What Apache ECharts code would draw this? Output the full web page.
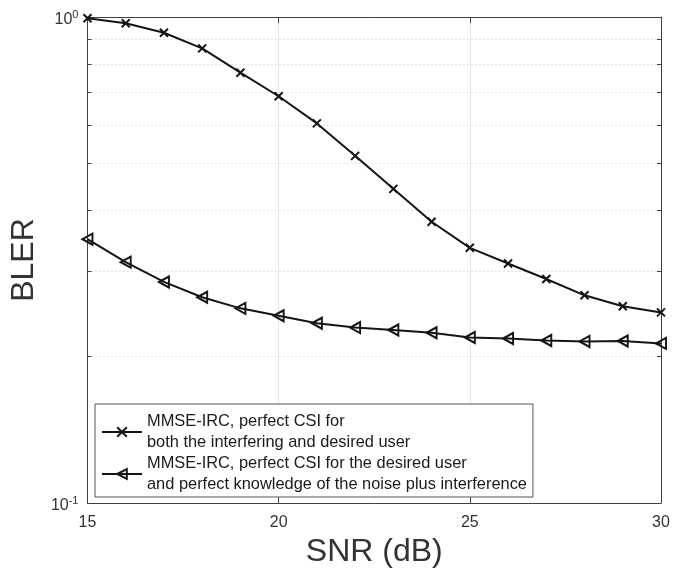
<!DOCTYPE html>
<html>
<head>
<meta charset="utf-8">
<script src="https://cdn.jsdelivr.net/npm/echarts@6/dist/echarts.min.js"></script>
<style>
html,body{margin:0;padding:0;background:#fff;}
#chart{width:685px;height:575px;}
</style>
</head>
<body>
<div id="chart"></div>
<script>
var snr = [15,16,17,18,19,20,21,22,23,24,25,26,27,28,29,30];
var blerFullCsi = [0.994,0.971,0.928,0.862,0.768,0.687,0.604,0.518,0.443,0.379,0.335,0.311,0.289,0.2675,0.254,0.2467];
var blerDesiredCsi = [0.349,0.313,0.285,0.265,0.2515,0.2428,0.2344,0.2296,0.227,0.224,0.219,0.218,0.216,0.215,0.2155,0.213];
var seriesNames = [
  'MMSE-IRC, perfect CSI for\nboth the interfering and desired user',
  'MMSE-IRC, perfect CSI for the desired user\nand perfect knowledge of the noise plus interference'
];
var xTicks = [15,20,25,30];
var yMin = 0.1, yMax = 1;

function pairs(xs, ys){ return xs.map(function(x,i){ return [x, ys[i]]; }); }

var FONT = '"Liberation Sans", Arial, Helvetica, sans-serif';
var AX = '#404040';
var LINE = '#151515';

var chart = echarts.init(document.getElementById('chart'), null, {renderer:'canvas'});
chart.setOption({
  animation: false,
  textStyle: {fontFamily: FONT},
  grid: {left: 86, top: 17, right: 24, bottom: 72, containLabel: false},
  legend: {
    left: 95, top: 404,
    orient: 'vertical',
    backgroundColor: '#fff',
    borderColor: '#555',
    borderWidth: 1,
    padding: [7, 6, 2, 6],
    itemGap: 0,
    itemWidth: 40,
    itemHeight: 12,
    textStyle: {fontFamily: FONT, fontSize: 16.4, lineHeight: 21, color: '#1a1a1a'},
    data: seriesNames
  },
  xAxis: [{
    type: 'value', min: xTicks[0], max: xTicks[xTicks.length-1], interval: 5,
    position: 'bottom',
    name: 'SNR (dB)', nameLocation: 'middle', nameGap: 32,
    nameTextStyle: {fontFamily: FONT, fontSize: 32, color: '#333'},
    axisLine: {show: true, lineStyle: {color: AX, width: 1}},
    axisTick: {show: true, inside: true, length: 6, lineStyle: {color: AX}},
    axisLabel: {margin: 12, fontSize: 16, color: '#333', fontFamily: FONT},
    splitLine: {show: true, lineStyle: {color: '#e6e6e6', width: 1, type: 'solid'}}
  },{
    type: 'value', min: xTicks[0], max: xTicks[xTicks.length-1], interval: 5,
    position: 'top',
    axisLine: {show: true, onZero: false, lineStyle: {color: AX, width: 1}},
    axisTick: {show: true, inside: true, length: 6, lineStyle: {color: AX}},
    axisLabel: {show: false},
    splitLine: {show: false}
  }],
  yAxis: [{
    type: 'log', logBase: 10, min: yMin, max: yMax,
    position: 'left',
    name: 'BLER', nameLocation: 'middle', nameGap: 41,
    nameTextStyle: {fontFamily: FONT, fontSize: 32, color: '#333'},
    axisLine: {show: true, onZero: false, lineStyle: {color: AX, width: 1}},
    axisTick: {show: true, inside: true, length: 6, lineStyle: {color: AX}},
    minorTick: {show: true, splitNumber: 9, length: 4, lineStyle: {color: AX}},
    minorSplitLine: {show: true, lineStyle: {color: '#c8c8c8', width: 1, type: [1, 3]}},
    splitLine: {show: false},
    axisLabel: {
      margin: 9,
      padding: [6, 0, 0, 0],
      formatter: function(v){
        var e = Math.round(Math.log10(v));
        return '{b|10}{s|' + e + '}';
      },
      rich: {
        b: {fontSize: 16, lineHeight: 16, color: '#333', fontFamily: FONT, verticalAlign: 'bottom'},
        s: {fontSize: 11, lineHeight: 11, color: '#333', fontFamily: FONT, verticalAlign: 'bottom', padding: [0, 0, 8, 0]}
      }
    }
  },{
    type: 'log', logBase: 10, min: yMin, max: yMax,
    position: 'right',
    axisLine: {show: true, onZero: false, lineStyle: {color: AX, width: 1}},
    axisTick: {show: true, inside: true, length: 6, lineStyle: {color: AX}},
    minorTick: {show: true, splitNumber: 9, length: 4, lineStyle: {color: AX}},
    minorSplitLine: {show: false},
    splitLine: {show: false},
    axisLabel: {show: false}
  }],
  series: [{
    name: seriesNames[0],
    type: 'line',
    xAxisIndex: 0, yAxisIndex: 0,
    data: pairs(snr, blerFullCsi),
    symbol: 'path://M0,0L10,10M10,0L0,10',
    symbolSize: 8,
    showAllSymbol: true,
    lineStyle: {color: LINE, width: 2},
    itemStyle: {color: 'none', borderColor: LINE, borderWidth: 2},
    z: 3
  },{
    name: seriesNames[1],
    type: 'line',
    xAxisIndex: 0, yAxisIndex: 0,
    data: pairs(snr, blerDesiredCsi),
    symbol: 'path://M0,5L9,0L9,10Z',
    symbolSize: [10, 11],
    showAllSymbol: true,
    lineStyle: {color: LINE, width: 2},
    itemStyle: {color: 'none', borderColor: LINE, borderWidth: 2},
    z: 3
  }]
});
</script>
</body>
</html>
